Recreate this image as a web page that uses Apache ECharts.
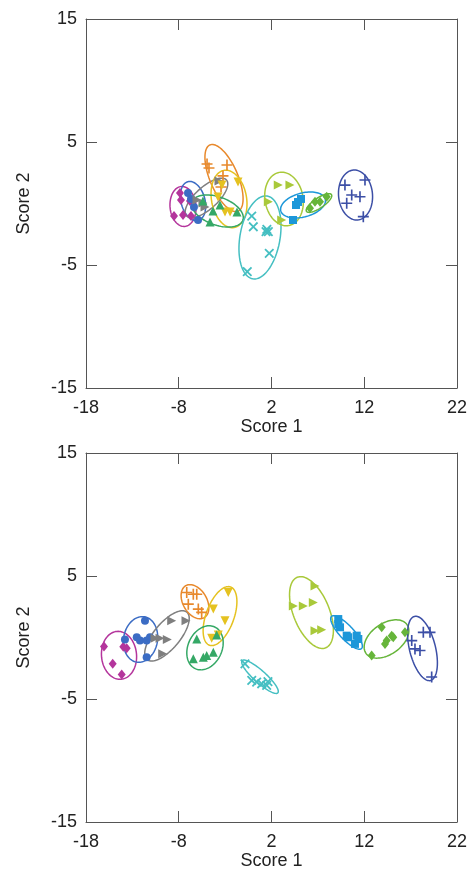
<!DOCTYPE html>
<html>
<head>
<meta charset="utf-8">
<script src="https://cdn.jsdelivr.net/npm/echarts@6/dist/echarts.min.js"></script>
<style>
  html, body { margin: 0; padding: 0; background: #fff; }
  #main { width: 470px; height: 871px; }
</style>
</head>
<body>
<div id="main"></div>
<script>
// tick labels
var xTicks = [-18, -8, 2, 12, 22];
var yTicks = [-15, -5, 5, 15];

// group order: magenta, blue, gray, orange, yellow, green, cyan, lime, sky, leaf, navy

// upper plot points
var p1Magenta = [[-7.87, 0.85], [-7.76, 0.28], [-8.51, -1.02], [-7.54, -0.93], [-6.68, -1.02], [-6.79, 0.2]];
var p1Blue = [[-7.0, 0.85], [-6.68, 0.37], [-5.92, -1.34], [-6.36, -0.28]];
var p1Gray = [[-6.03, 0.28], [-5.39, 0.04], [-3.66, 1.83], [-5.17, -0.28]];
var p1Orange = [[-4.95, 3.21], [-4.74, 2.89], [-2.8, 3.13], [-3.23, 2.24], [-3.44, 1.34]];
var p1Yellow = [[-1.61, 1.75], [-3.34, 1.5], [-3.77, 0.53], [-3.01, -0.69], [-2.47, -0.69]];
var p1Green = [[-5.39, 0.2], [-4.31, -0.61], [-4.63, -1.5], [-1.72, -0.69], [-3.55, -0.12]];
var p1Cyan = [[-0.13, -1.02], [0.04, -1.89], [1.41, -2.29], [1.66, -2.29], [1.5, -2.1], [1.76, -4.05], [-0.61, -5.54]];
var p1Lime = [[2.73, 1.5], [3.99, 1.5], [1.66, 0.14], [3.1, -1.34]];
var p1Sky = [[4.86, 0.12], [5.18, 0.37], [4.32, -1.34], [4.64, -0.12]];
var p1Leaf = [[6.15, -0.39], [6.69, 0.15], [7.23, 0.15], [7.95, 0.55]];
var p1Navy = [[9.92, 1.5], [12.08, 1.91], [10.65, 0.69], [11.54, 0.55], [10.11, 0.02], [11.9, -1.07]];

// upper plot ellipses: centre x, centre y, half axes (x units), angle (deg)
var p1Ellipses = [
  [-7.54, -0.24, 2.16, 1.40, 95],
  [-6.46, 0.2, 2.16, 1.29, 105],
  [-5.01, 0.45, 2.9, 1.19, 42],
  [-3.12, 2.07, 3.88, 1.51, 113],
  [-2.58, 0.37, 3.13, 1.89, 100],
  [-3.82, -0.61, 2.91, 1.51, -20],
  [0.76, -2.76, 4.53, 2.16, 80],
  [3.35, 0.37, 2.91, 2.05, 100],
  [5.4, -0.12, 2.48, 1.29, 15],
  [7.12, 0.04, 1.62, 0.54, 34],
  [11.06, 0.69, 2.7, 1.83, 95]
];

// lower plot points
var p2Magenta = [[-16.06, -0.74], [-13.98, -0.76], [-13.61, -0.87], [-15.12, -2.14], [-14.15, -3.0]];
var p2Blue = [[-11.64, 1.36], [-13.8, -0.17], [-12.53, 0.02], [-12.18, -0.25], [-11.46, -0.25], [-11.1, 0.02], [-11.46, -1.6]];
var p2Gray = [[-8.76, 1.36], [-7.22, 1.36], [-10.56, -0.06], [-10.02, -0.06], [-9.23, -0.17], [-9.73, -1.33]];
var p2Orange = [[-7.14, 3.66], [-6.43, 3.52], [-6.06, 3.52], [-6.97, 2.71], [-5.89, 2.31], [-5.53, 2.04]];
var p2Yellow = [[-2.66, 3.66], [-4.27, 2.31], [-3.01, 1.36], [-4.45, -0.06], [-3.74, 0.21]];
var p2Green = [[-6.06, -0.12], [-3.91, 0.21], [-6.43, -1.73], [-5.35, -1.6], [-4.99, -1.47], [-4.27, -1.19]];
var p2Cyan = [[-0.86, -2.14], [-0.13, -3.49], [0.4, -3.62], [0.94, -3.76], [1.48, -3.89], [1.62, -3.59]];
var p2Lime = [[6.69, 4.19], [4.35, 2.57], [5.43, 2.57], [6.51, 2.85], [6.69, 0.55], [7.41, 0.63]];
var p2Sky = [[9.2, 1.5], [9.2, 1.1], [9.39, 0.83], [10.11, 0.15], [10.28, 0.02], [11.19, 0.15], [11.36, -0.12], [11.0, -0.52]];
var p2Leaf = [[13.88, 0.83], [16.39, 0.42], [14.42, -0.25], [14.96, 0.15], [15.13, 0.02], [14.24, -0.52], [12.8, -1.47]];
var p2Navy = [[18.37, 0.42], [19.09, 0.42], [17.12, -0.25], [17.47, -0.93], [18.01, -1.06], [19.27, -3.21]];

var p2Ellipses = [
  [-14.44, -1.45, 2.59, 1.89, 95],
  [-12.12, -0.16, 2.48, 1.83, 80],
  [-9.27, 0.13, 3.34, 1.40, 50],
  [-6.25, 2.91, 1.99, 1.29, 120],
  [-3.55, 1.74, 3.34, 1.51, 70],
  [-5.17, -0.84, 2.48, 1.83, 65],
  [0.76, -3.19, 2.59, 0.65, -42],
  [6.31, 2.03, 4.1, 1.94, 112],
  [10.09, 0.41, 2.37, 0.75, -47],
  [14.4, -0.12, 2.7, 1.67, 35],
  [18.28, -0.89, 3.56, 1.40, 104]
];

var colors = ['#b4359c', '#3b6cc4', '#7f7f7f', '#e8892c', '#e5c220', '#35a866',
              '#45bfc2', '#a9c93a', '#1c97d9', '#66b53a', '#3c4fa6'];

var plusPath = 'path://M4.25,0H5.75V4.25H10V5.75H5.75V10H4.25V5.75H0V4.25H4.25Z';
var symbols = [
  { symbol: 'diamond', size: [8, 10], rotate: 0 },
  { symbol: 'circle', size: 8, rotate: 0 },
  { symbol: 'path://M0,0L10,5L0,10Z', size: 9, rotate: 0 },
  { symbol: plusPath, size: 11, rotate: 0 },
  { symbol: 'triangle', size: 9, rotate: 180 },
  { symbol: 'triangle', size: 9, rotate: 0 },
  { symbol: plusPath, size: 12, rotate: 45 },
  { symbol: 'path://M0,0L10,5L0,10Z', size: 9, rotate: 0 },
  { symbol: 'rect', size: 8, rotate: 0 },
  { symbol: 'diamond', size: [8, 10], rotate: 0 },
  { symbol: plusPath, size: 11, rotate: 0 }
];

var p1Groups = [p1Magenta, p1Blue, p1Gray, p1Orange, p1Yellow, p1Green, p1Cyan, p1Lime, p1Sky, p1Leaf, p1Navy];
var p2Groups = [p2Magenta, p2Blue, p2Gray, p2Orange, p2Yellow, p2Green, p2Cyan, p2Lime, p2Sky, p2Leaf, p2Navy];

var textFont = 'Liberation Sans, Arial, sans-serif';
var axisColor = '#555';

function xAxisOf(grid, pos, showLabel) {
  return {
    type: 'value', gridIndex: grid, position: pos, min: -18, max: 22,
    name: showLabel ? 'Score 1' : '', nameLocation: 'middle', nameGap: 30,
    nameTextStyle: { fontFamily: textFont, fontSize: 18, color: '#222' },
    axisLine: { show: true, onZero: false, lineStyle: { color: axisColor, width: 1 } },
    axisTick: { show: true, inside: true, length: 11, customValues: xTicks, lineStyle: { color: axisColor } },
    axisLabel: { show: showLabel, customValues: xTicks, margin: 11, fontFamily: textFont, fontSize: 18, color: '#222' },
    splitLine: { show: false }
  };
}

function yAxisOf(grid, pos, showLabel) {
  return {
    type: 'value', gridIndex: grid, position: pos, min: -15, max: 15,
    name: showLabel ? 'Score 2' : '', nameLocation: 'middle', nameGap: 53,
    nameTextStyle: { fontFamily: textFont, fontSize: 18, color: '#222' },
    axisLine: { show: true, onZero: false, lineStyle: { color: axisColor, width: 1 } },
    axisTick: { show: true, inside: true, length: 11, customValues: yTicks, lineStyle: { color: axisColor } },
    axisLabel: { show: showLabel, customValues: yTicks, margin: 9, fontFamily: textFont, fontSize: 18, color: '#222' },
    splitLine: { show: false }
  };
}

function renderEllipse(params, api) {
  var c = api.coord([api.value(0), api.value(1)]);
  var a = api.size([api.value(2), 0])[0];
  var b = api.size([api.value(3), 0])[0];
  var t = api.value(4) * Math.PI / 180;
  var pts = [];
  for (var i = 0; i < 90; i++) {
    var s = i / 90 * 2 * Math.PI;
    pts.push([
      c[0] + a * Math.cos(t) * Math.cos(s) - b * Math.sin(t) * Math.sin(s),
      c[1] - (a * Math.sin(t) * Math.cos(s) + b * Math.cos(t) * Math.sin(s))
    ]);
  }
  return {
    type: 'polygon',
    shape: { points: pts },
    style: { fill: 'none', stroke: api.visual('color'), lineWidth: 1.5 }
  };
}

function buildSeries(groups, ellipses, axisIdx) {
  var out = [];
  out.push({
    type: 'custom',
    xAxisIndex: axisIdx, yAxisIndex: axisIdx,
    renderItem: renderEllipse,
    encode: { x: 0, y: 1 },
    silent: true,
    z: 1,
    data: ellipses.map(function (e, i) {
      return { value: e, itemStyle: { color: colors[i] } };
    })
  });
  groups.forEach(function (pts, i) {
    out.push({
      type: 'scatter',
      xAxisIndex: axisIdx, yAxisIndex: axisIdx,
      symbol: symbols[i].symbol,
      symbolSize: symbols[i].size,
      symbolRotate: symbols[i].rotate,
      itemStyle: { color: colors[i], opacity: 1 },
      z: 2,
      data: pts
    });
  });
  return out;
}

var chart = echarts.init(document.getElementById('main'), null, { renderer: 'canvas' });

var option = {
  backgroundColor: '#fff',
  animation: false,
  grid: [
    { left: 86, top: 19, width: 371, height: 369 },
    { left: 86, top: 453, width: 371, height: 371 }
  ],
  xAxis: [
    xAxisOf(0, 'bottom', true), xAxisOf(0, 'top', false),
    xAxisOf(1, 'bottom', true), xAxisOf(1, 'top', false)
  ],
  yAxis: [
    yAxisOf(0, 'left', true), yAxisOf(0, 'right', false),
    yAxisOf(1, 'left', true), yAxisOf(1, 'right', false)
  ],
  series: buildSeries(p1Groups, p1Ellipses, 0).concat(buildSeries(p2Groups, p2Ellipses, 2))
};

chart.setOption(option);
</script>
</body>
</html>
